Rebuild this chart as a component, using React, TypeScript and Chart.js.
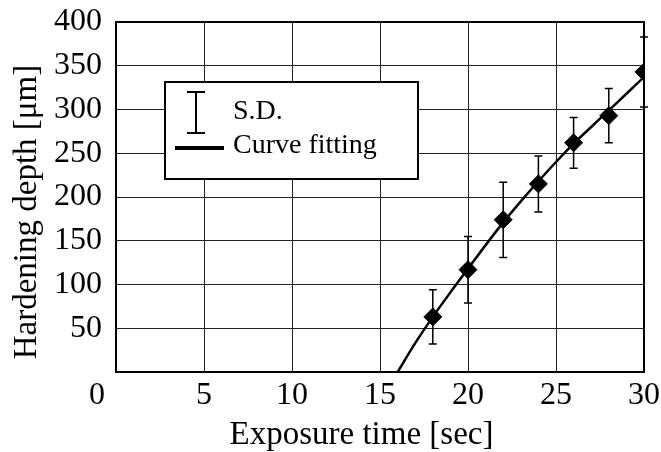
import React, { useEffect, useRef } from "react";
import { Chart, registerables } from "chart.js";

Chart.register(...registerables);

const exposureTimes = [18, 20, 22, 24, 26, 28, 30];
const meanDepth = [63, 117, 174, 215, 262, 293, 343];
const sdDepth = [31, 38, 43, 32, 29, 31, 40];

const fitTimes = [16, 17, 18, 19, 20, 21, 22, 23, 24, 25, 26, 27, 28, 29, 30];
const fitDepth = [0, 33, 63, 91, 118, 145, 171, 195, 218, 240, 261, 280, 299, 318, 337];

const xTitle = "Exposure time [sec]";
const yTitle = "Hardening depth [\u03bcm]";
const legendSD = "S.D.";
const legendFit = "Curve fitting";
const originLabel = "0";

const FONT = "'Liberation Serif', 'Times New Roman', serif";

const customPlugin = {
  id: "custom",
  beforeDatasetsDraw(chart: any) {
    const ctx = chart.ctx;
    const xs = chart.scales.x;
    const ys = chart.scales.y;
    ctx.save();
    ctx.strokeStyle = "#000";
    ctx.lineWidth = 1.5;
    exposureTimes.forEach((t, i) => {
      const px = xs.getPixelForValue(t);
      const top = ys.getPixelForValue(meanDepth[i] + sdDepth[i]);
      const bot = ys.getPixelForValue(meanDepth[i] - sdDepth[i]);
      ctx.beginPath();
      ctx.moveTo(px, top);
      ctx.lineTo(px, bot);
      ctx.moveTo(px - 4, top);
      ctx.lineTo(px + 4, top);
      ctx.moveTo(px - 4, bot);
      ctx.lineTo(px + 4, bot);
      ctx.stroke();
    });
    ctx.restore();
  },
  afterDraw(chart: any) {
    const ctx = chart.ctx;
    const a = chart.chartArea;
    const xs = chart.scales.x;
    ctx.save();
    // frame
    ctx.strokeStyle = "#000";
    ctx.lineWidth = 2;
    ctx.strokeRect(a.left, a.top, a.right - a.left, a.bottom - a.top);

    // origin label "0", shifted left of the y axis as in the reference
    ctx.fillStyle = "#000";
    ctx.font = `32px ${FONT}`;
    ctx.textAlign = "center";
    let oy = a.bottom + 6;
    let base: CanvasTextBaseline = "top";
    try {
      const items = xs.getLabelItems();
      if (items && items.length) {
        const it = items[0];
        oy = it.options.translation[1] + (it.textOffset || 0);
        base = it.options.textBaseline || "top";
      }
    } catch (e) {}
    ctx.textBaseline = base;
    ctx.fillText(originLabel, a.left - 19, oy);

    // axis titles
    ctx.font = `33px ${FONT}`;
    ctx.textAlign = "center";
    ctx.textBaseline = "alphabetic";
    ctx.fillText(xTitle, a.left + (a.right - a.left) * 0.465, a.bottom + 72);
    ctx.save();
    ctx.translate(a.left - 80, a.top + (a.bottom - a.top) * 0.543);
    ctx.rotate(-Math.PI / 2);
    ctx.fillText(yTitle, 0, 0);
    ctx.restore();

    // legend box
    const lx = a.left + 49;
    const ly = a.top + 60;
    const lw = 253;
    const lh = 97;
    ctx.fillStyle = "#fff";
    ctx.fillRect(lx, ly, lw, lh);
    ctx.lineWidth = 2;
    ctx.strokeStyle = "#000";
    ctx.strokeRect(lx, ly, lw, lh);

    // S.D. symbol
    const sx = lx + 31;
    ctx.lineWidth = 2;
    ctx.beginPath();
    ctx.moveTo(sx, ly + 10);
    ctx.lineTo(sx, ly + 51);
    ctx.moveTo(sx - 9, ly + 10);
    ctx.lineTo(sx + 9, ly + 10);
    ctx.moveTo(sx - 9, ly + 51);
    ctx.lineTo(sx + 9, ly + 51);
    ctx.stroke();

    // fit line symbol
    ctx.lineWidth = 4;
    ctx.beginPath();
    ctx.moveTo(lx + 10, ly + 66);
    ctx.lineTo(lx + 59, ly + 66);
    ctx.stroke();

    ctx.fillStyle = "#000";
    ctx.font = `28px ${FONT}`;
    ctx.textAlign = "left";
    ctx.textBaseline = "alphabetic";
    ctx.fillText(legendSD, lx + 68, ly + 37);
    ctx.fillText(legendFit, lx + 68, ly + 71);
    ctx.restore();
  },
};

export default function App() {
  const ref = useRef<HTMLCanvasElement>(null);
  useEffect(() => {
    if (!ref.current) return;
    const chart = new Chart(ref.current, {
      type: "scatter",
      data: {
        datasets: [
          {
            type: "line",
            label: legendFit,
            data: fitTimes.map((t, i) => ({ x: t, y: fitDepth[i] })),
            borderColor: "#000",
            borderWidth: 2.5,
            pointRadius: 0,
            cubicInterpolationMode: "monotone",
            fill: false,
          } as any,
          {
            label: "Mean",
            data: exposureTimes.map((t, i) => ({ x: t, y: meanDepth[i] })),
            backgroundColor: "#000",
            borderColor: "#000",
            pointStyle: "rectRot",
            pointRadius: 9,
            showLine: false,
          },
        ],
      },
      options: {
        responsive: false,
        animation: false,
        layout: { padding: { left: 0, top: 22, right: 17, bottom: 0 } },
        plugins: {
          legend: { display: false },
          tooltip: { enabled: false },
          title: { display: false },
        },
        scales: {
          x: {
            type: "linear",
            min: 0,
            max: 30,
            ticks: {
              stepSize: 5,
              color: "#000",
              padding: 4,
              maxRotation: 0,
              font: { family: FONT, size: 32 },
              callback: (v: any) => (v === 0 ? "" : String(v)),
            },
            grid: { color: "#222", lineWidth: 1, drawTicks: false },
            border: { display: true, color: "#000", width: 2 },
            afterFit: (s: any) => {
              s.height = 80;
              s.paddingLeft = 0;
              s.paddingRight = 0;
            },
          },
          y: {
            type: "linear",
            min: 0,
            max: 400,
            ticks: {
              stepSize: 50,
              color: "#000",
              padding: 14,
              font: { family: FONT, size: 32 },
              callback: (v: any) => (v === 0 ? "" : String(v)),
            },
            grid: { color: "#222", lineWidth: 1, drawTicks: false },
            border: { display: true, color: "#000", width: 2 },
            afterFit: (s: any) => {
              s.width = 116;
              s.paddingTop = 0;
              s.paddingBottom = 0;
            },
          },
        },
      },
      plugins: [customPlugin],
    });
    return () => chart.destroy();
  }, []);
  return (
    <div style={{ position: "fixed", left: 0, top: 0, width: 661, height: 452, background: "#fff" }}>
      <canvas ref={ref} width={661} height={452} style={{ display: "block" }} />
    </div>
  );
}
